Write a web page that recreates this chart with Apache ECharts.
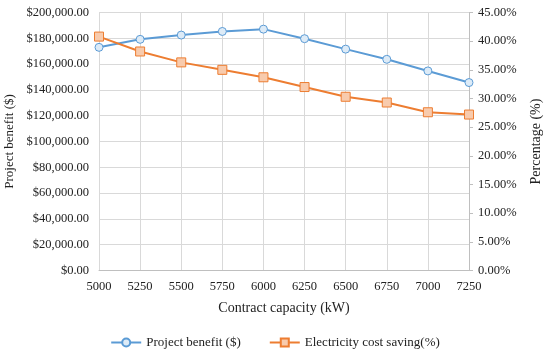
<!DOCTYPE html>
<html><head><meta charset="utf-8">
<script src="https://cdn.jsdelivr.net/npm/echarts@6/dist/echarts.min.js"></script>
<style>html,body{margin:0;padding:0;background:#fff}#c{width:550px;height:358px}</style>
</head><body><div id="c"></div>
<script>
const categories = ['5000','5250','5500','5750','6000','6250','6500','6750','7000','7250'];
const projectBenefit = [173000, 179200, 182500, 185300, 187100, 179700, 171600, 163700, 154700, 145700];
const costSaving = [40.8, 38.2, 36.3, 35.0, 33.7, 32.0, 30.3, 29.3, 27.6, 27.2];
const font = 'Liberation Serif';
const chart = echarts.init(document.getElementById('c'));
chart.setOption({
  animation: false,
  textStyle: {fontFamily: font},
  grid: {left: 99, right: 81, top: 12.5, bottom: 87.5, outerBoundsMode: 'none', containLabel: false},
  legend: {
    bottom: 4, left: 'center', itemGap: 28, itemWidth: 30, itemHeight: 10,
    textStyle: {fontFamily: font, fontSize: 13, color: '#222'},
    data: ['Project benefit ($)', 'Electricity cost saving(%)']
  },
  xAxis: {
    type: 'category', data: categories, boundaryGap: false,
    name: 'Contract capacity (kW)', nameLocation: 'middle', nameGap: 31,
    nameTextStyle: {fontFamily: font, fontSize: 14, color: '#222'},
    axisLine: {lineStyle: {color: '#bfbfbf'}}, axisTick: {show: false},
    axisLabel: {fontFamily: font, fontSize: 12.5, color: '#222', margin: 10},
    splitLine: {show: true, lineStyle: {color: '#d9d9d9'}}
  },
  yAxis: [{
    type: 'value', min: 0, max: 200000, interval: 20000,
    name: 'Project benefit ($)', nameLocation: 'middle', nameGap: 75,
    nameTextStyle: {fontFamily: font, fontSize: 13, color: '#222'},
    axisLine: {show: false}, axisTick: {show: false},
    axisLabel: {fontFamily: font, fontSize: 12.5, color: '#222', margin: 10,
      formatter: v => '$' + v.toLocaleString('en-US', {minimumFractionDigits: 2, maximumFractionDigits: 2})},
    splitLine: {lineStyle: {color: '#d9d9d9'}}
  }, {
    type: 'value', min: 0, max: 45, interval: 5, position: 'right',
    name: 'Percentage (%)', nameLocation: 'middle', nameGap: 60, nameRotate: 90,
    nameTextStyle: {fontFamily: font, fontSize: 14, color: '#222'},
    axisLine: {show: true, lineStyle: {color: '#bfbfbf'}},
    axisTick: {show: true, length: 4, lineStyle: {color: '#bfbfbf'}},
    axisLabel: {fontFamily: font, fontSize: 12.5, color: '#222', margin: 9,
      formatter: v => v.toFixed(2) + '%'},
    splitLine: {show: false}
  }],
  series: [{
    name: 'Project benefit ($)', type: 'line', data: projectBenefit, yAxisIndex: 0,
    symbol: 'circle', symbolSize: 8,
    lineStyle: {color: '#5b9bd5', width: 2},
    itemStyle: {color: '#ddebf7', borderColor: '#5b9bd5', borderWidth: 1},
  }, {
    name: 'Electricity cost saving(%)', type: 'line', data: costSaving, yAxisIndex: 1,
    symbol: 'rect', symbolSize: 9,
    lineStyle: {color: '#ed7d31', width: 2},
    itemStyle: {color: '#f8cbad', borderColor: '#ed7d31', borderWidth: 1},
  }]
});
</script></body></html>
